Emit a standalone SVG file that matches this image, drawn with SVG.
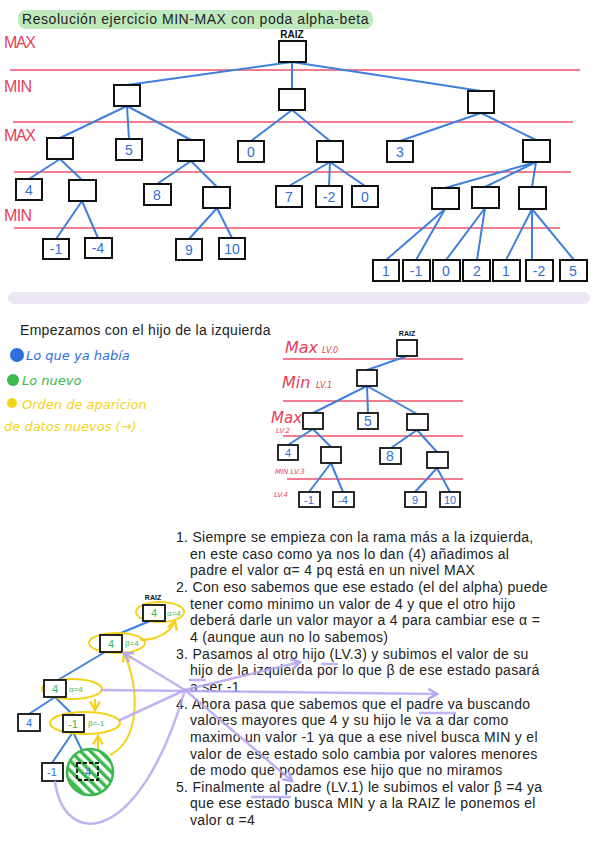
<svg xmlns="http://www.w3.org/2000/svg" width="600" height="848" viewBox="0 0 600 848">
<style>
.box{fill:#fff;stroke:#111;stroke-width:2}
.sbox{fill:#fff;stroke:#111;stroke-width:1.8}
.num{font-family:"Liberation Sans",sans-serif;font-size:14px;fill:#2f6fd6;text-anchor:middle}
.snum{font-family:"Liberation Sans",sans-serif;font-size:11px;fill:#2f6fd6;text-anchor:middle}
.gnum{font-family:"Liberation Sans",sans-serif;font-size:11px;fill:#3cb94e;text-anchor:middle}
.glab{font-family:"Liberation Sans",sans-serif;font-size:8px;fill:#3cb94e}
.edge{stroke:#3f80dc;stroke-width:2;fill:none}
.lvl{stroke:#ef5068;stroke-width:1.6}
.lab{font-family:"Liberation Sans",sans-serif;font-size:16px;fill:#e8405a}
.hlab{font-family:"DejaVu Sans",sans-serif;font-style:italic;fill:#e8405a}
.tiny{font-family:"Liberation Sans",sans-serif;font-size:7px;font-weight:bold;fill:#111;text-anchor:middle}
.body{font-family:"Liberation Sans",sans-serif;font-size:14px;fill:#222;letter-spacing:0.3px}
.hand{font-family:"DejaVu Sans",sans-serif;font-style:italic;font-size:13px}
.yel{stroke:#f3d21a;stroke-width:2;fill:none}
.pur{stroke:#b6a6f0;stroke-width:2.5;fill:none;stroke-linecap:round;stroke-opacity:0.85}
</style>
<defs>
<pattern id="hatch" patternUnits="userSpaceOnUse" width="7" height="7" patternTransform="rotate(-45)">
<rect width="7" height="7" fill="#fff"/><rect width="3.5" height="7" fill="#3cb94e"/>
</pattern>
<marker id="ya" viewBox="0 0 10 10" refX="8" refY="5" markerWidth="6" markerHeight="6" orient="auto"><path d="M1,1 L8,5 L1,9" fill="none" stroke="#f3d21a" stroke-width="2"/></marker>
<marker id="pa" viewBox="0 0 10 10" refX="8" refY="5" markerWidth="5" markerHeight="5" orient="auto"><path d="M1,1 L8,5 L1,9" fill="none" stroke="#b6a6f0" stroke-width="2"/></marker>
</defs>
<rect width="600" height="848" fill="#fff"/>

<!-- Title -->
<g id="title">
<rect x="18" y="10" width="355" height="19" rx="8" fill="#bfe8bc"/>
<text x="22" y="24" style="font-family:'Liberation Sans',sans-serif;font-size:14px;fill:#222;letter-spacing:0.55px">Resolución ejercicio MIN-MAX con poda alpha-beta</text>
</g>

<!-- Level labels and lines, top -->
<g id="levels-top">
<text class="lab" x="4" y="48" textLength="32">MAX</text>
<text class="lab" x="4" y="92" textLength="28">MIN</text>
<text class="lab" x="4" y="141" textLength="32">MAX</text>
<text class="lab" x="4" y="221" textLength="28">MIN</text>
<line class="lvl" x1="10" y1="70" x2="580" y2="70"/>
<line class="lvl" x1="13" y1="122" x2="573" y2="122"/>
<line class="lvl" x1="14" y1="172" x2="571" y2="172"/>
<line class="lvl" x1="14" y1="228" x2="560" y2="228"/>
</g>

<!-- Top tree connectors -->
<g id="connectors-top">
<path class="edge" d="M292,62 L127,85 M292,62 L292,89 M292,62 L481,91"/>
<path class="edge" d="M127,106 L60,138 M127,106 L129,139 M127,106 L191,140"/>
<path class="edge" d="M292,110 L251,141 M292,110 L330,141"/>
<path class="edge" d="M481,113 L400,141 M481,113 L536,140"/>
<path class="edge" d="M60,159 L29,179 M60,159 L82,180"/>
<path class="edge" d="M191,161 L157,184 M191,161 L217,187"/>
<path class="edge" d="M330,162 L289,186 M330,162 L329,186 M330,162 L365,186"/>
<path class="edge" d="M536,162 L445,188 M536,162 L485,187 M536,162 L532,187"/>
<path class="edge" d="M82,201 L56,239 M82,201 L98,238"/>
<path class="edge" d="M217,208 L189,239 M217,208 L232,238"/>
<path class="edge" d="M445,209 L386,260 M445,209 L416,260"/>
<path class="edge" d="M485,208 L446,260 M485,208 L477,260"/>
<path class="edge" d="M532,209 L506,260 M532,209 L532,260 M532,209 L574,260"/>
</g>

<!-- Top tree nodes -->
<g id="t-raiz"><text x="292" y="38" style="font-family:'Liberation Sans',sans-serif;font-size:10px;font-weight:bold;fill:#111;text-anchor:middle">RAIZ</text><rect class="box" x="279" y="41" width="27" height="21"/></g>
<g id="t-min1"><rect class="box" x="114" y="85" width="26" height="21"/></g>
<g id="t-min2"><rect class="box" x="279" y="89" width="26" height="21"/></g>
<g id="t-min3"><rect class="box" x="468" y="91" width="26" height="22"/></g>
<g id="t-max1"><rect class="box" x="47" y="138" width="26" height="21"/></g>
<g id="t-max2"><rect class="box" x="116" y="139" width="26" height="21"/><text class="num" x="129" y="155">5</text></g>
<g id="t-max3"><rect class="box" x="178" y="140" width="26" height="21"/></g>
<g id="t-max4"><rect class="box" x="238" y="141" width="26" height="21"/><text class="num" x="251" y="157">0</text></g>
<g id="t-max5"><rect class="box" x="317" y="141" width="26" height="21"/></g>
<g id="t-max6"><rect class="box" x="387" y="141" width="26" height="21"/><text class="num" x="400" y="157">3</text></g>
<g id="t-max7"><rect class="box" x="523" y="140" width="27" height="22"/></g>
<g id="t-n1"><rect class="box" x="16" y="179" width="26" height="21"/><text class="num" x="29" y="195">4</text></g>
<g id="t-n2"><rect class="box" x="69" y="180" width="27" height="21"/></g>
<g id="t-n3"><rect class="box" x="144" y="184" width="27" height="21"/><text class="num" x="157" y="200">8</text></g>
<g id="t-n4"><rect class="box" x="203" y="187" width="27" height="21"/></g>
<g id="t-n5"><rect class="box" x="276" y="186" width="26" height="21"/><text class="num" x="289" y="202">7</text></g>
<g id="t-n6"><rect class="box" x="316" y="186" width="26" height="21"/><text class="num" x="329" y="202">-2</text></g>
<g id="t-n7"><rect class="box" x="352" y="186" width="26" height="21"/><text class="num" x="365" y="202">0</text></g>
<g id="t-n8"><rect class="box" x="432" y="188" width="27" height="21"/></g>
<g id="t-n9"><rect class="box" x="472" y="187" width="27" height="21"/></g>
<g id="t-n10"><rect class="box" x="519" y="187" width="27" height="22"/></g>
<g id="t-l1"><rect class="box" x="43" y="239" width="26" height="20"/><text class="num" x="56" y="254">-1</text></g>
<g id="t-l2"><rect class="box" x="85" y="238" width="27" height="20"/><text class="num" x="98" y="253">-4</text></g>
<g id="t-l3"><rect class="box" x="176" y="239" width="26" height="21"/><text class="num" x="189" y="255">9</text></g>
<g id="t-l4"><rect class="box" x="219" y="238" width="26" height="21"/><text class="num" x="232" y="254">10</text></g>
<g id="t-l5"><rect class="box" x="373" y="260" width="26" height="21"/><text class="num" x="386" y="276">1</text></g>
<g id="t-l6"><rect class="box" x="403" y="260" width="27" height="21"/><text class="num" x="416" y="276">-1</text></g>
<g id="t-l7"><rect class="box" x="433" y="260" width="27" height="21"/><text class="num" x="446" y="276">0</text></g>
<g id="t-l8"><rect class="box" x="463" y="260" width="27" height="21"/><text class="num" x="477" y="276">2</text></g>
<g id="t-l9"><rect class="box" x="493" y="260" width="27" height="21"/><text class="num" x="506" y="276">1</text></g>
<g id="t-l10"><rect class="box" x="526" y="260" width="27" height="21"/><text class="num" x="539" y="276">-2</text></g>
<g id="t-l11"><rect class="box" x="560" y="260" width="27" height="21"/><text class="num" x="573" y="276">5</text></g>

<!-- Divider -->
<rect x="8" y="292" width="582" height="12" rx="6" fill="#ece6f6"/>

<!-- Middle text and legend -->
<text class="body" x="20" y="335">Empezamos con el hijo de la izquierda</text>
<g id="legend">
<circle cx="17" cy="355" r="7" fill="#2f6fe0"/>
<text class="hand" x="26" y="360" fill="#2f6fe0">Lo que ya había</text>
<circle cx="13" cy="380" r="6" fill="#3cb94e"/>
<text class="hand" x="22" y="385" fill="#3cb94e">Lo nuevo</text>
<circle cx="12" cy="403" r="5" fill="#f3d21a"/>
<text class="hand" x="22" y="409" fill="#f3d21a">Orden de aparicion</text>
<text class="hand" x="4" y="431" fill="#f3d21a">de datos nuevos (→)</text>
</g>

<!-- Middle tree levels -->
<g id="levels-mid">
<text class="hlab" x="285" y="353" style="font-size:16px">Max</text>
<text class="hlab" x="322" y="353" style="font-size:8px">LV.0</text>
<text class="hlab" x="282" y="388" style="font-size:16px">Min</text>
<text class="hlab" x="316" y="388" style="font-size:8px">LV.1</text>
<text class="hlab" x="271" y="423" style="font-size:15px">Max</text>
<text class="hlab" x="276" y="433" style="font-size:7px">LV.2</text>
<text class="hlab" x="275" y="474" style="font-size:7px">MIN LV.3</text>
<text class="hlab" x="274" y="497" style="font-size:7px">LV.4</text>
<line class="lvl" x1="283" y1="359" x2="463" y2="359"/>
<line class="lvl" x1="283" y1="401" x2="463" y2="401"/>
<line class="lvl" x1="283" y1="436" x2="463" y2="436"/>
<line class="lvl" x1="287" y1="479" x2="463" y2="479"/>
</g>

<g id="connectors-mid">
<path class="edge" d="M407,356 L367,370"/>
<path class="edge" d="M367,386 L313,413 M367,386 L368,413 M367,386 L417,414"/>
<path class="edge" d="M313,429 L288,445 M313,429 L331,447"/>
<path class="edge" d="M417,430 L391,448 M417,430 L437,452"/>
<path class="edge" d="M331,463 L309,492 M331,463 L343,492"/>
<path class="edge" d="M437,468 L415,492 M437,468 L450,492"/>
</g>

<g id="m-raiz"><text class="tiny" x="407" y="336">RAIZ</text><rect class="sbox" x="397" y="340" width="20" height="16"/></g>
<g id="m-min"><rect class="sbox" x="357" y="370" width="20" height="16"/></g>
<g id="m-max1"><rect class="sbox" x="303" y="413" width="20" height="16"/></g>
<g id="m-max2"><rect class="sbox" x="358" y="413" width="20" height="16"/><text class="num" x="368" y="426">5</text></g>
<g id="m-max3"><rect class="sbox" x="407" y="414" width="21" height="16"/></g>
<g id="m-n1"><rect class="sbox" x="278" y="445" width="20" height="15"/><text class="snum" x="288" y="457">4</text></g>
<g id="m-n2"><rect class="sbox" x="321" y="447" width="20" height="16"/></g>
<g id="m-n3"><rect class="sbox" x="380" y="448" width="21" height="16"/><text class="num" x="390" y="461">8</text></g>
<g id="m-n4"><rect class="sbox" x="427" y="452" width="21" height="16"/></g>
<g id="m-l1"><rect class="sbox" x="299" y="492" width="21" height="15"/><text class="snum" x="309" y="504">-1</text></g>
<g id="m-l2"><rect class="sbox" x="333" y="492" width="21" height="15"/><text class="snum" x="343" y="504">-4</text></g>
<g id="m-l3"><rect class="sbox" x="405" y="492" width="21" height="15"/><text class="snum" x="415" y="504">9</text></g>
<g id="m-l4"><rect class="sbox" x="440" y="492" width="20" height="15"/><text class="snum" x="450" y="504">10</text></g>

<!-- Bottom text -->
<text class="body">
<tspan x="176" y="542">1. Siempre se empieza con la rama más a la izquierda,</tspan>
<tspan x="190" y="558.7">en este caso como ya nos lo dan (4) añadimos al</tspan>
<tspan x="190" y="575.3">padre el valor α= 4 pq está en un nivel MAX</tspan>
<tspan x="176" y="592">2.  Con eso sabemos que ese estado (el del alpha) puede</tspan>
<tspan x="190" y="608.6">tener como minimo un valor de 4 y que el otro hijo</tspan>
<tspan x="190" y="625.3">deberá darle un valor mayor a 4 para cambiar ese α =</tspan>
<tspan x="190" y="641.9">4 (aunque aun no lo sabemos)</tspan>
<tspan x="176" y="658.6">3.  Pasamos al otro hijo (LV.3) y subimos el valor de su</tspan>
<tspan x="190" y="675.2">hijo de la izquierda por lo que β de ese estado pasará</tspan>
<tspan x="190" y="691.9">a ser -1</tspan>
<tspan x="176" y="708.5">4.  Ahora pasa que sabemos que el padre va buscando</tspan>
<tspan x="190" y="725.2">valores mayores que 4 y su hijo le va a dar como</tspan>
<tspan x="190" y="741.8">maximo un valor -1 ya que a ese nivel busca MIN y el</tspan>
<tspan x="190" y="758.5">valor de ese estado solo cambia por valores menores</tspan>
<tspan x="190" y="775.1">de modo que podamos ese hijo que no miramos</tspan>
<tspan x="176" y="791.8">5. Finalmente al padre (LV.1) le subimos el valor β =4 ya</tspan>
<tspan x="190" y="808.4">que ese estado busca MIN y a la RAIZ le ponemos el</tspan>
<tspan x="190" y="825.1">valor α =4</tspan>
</text>

<!-- Bottom-left tree connectors -->
<g id="connectors-bl">
<path class="edge" d="M150,621 L116,635 M105,652 L58,680 M55,697 L29,714 M55,697 L73,715 M73,732 L52,763 M73,732 L88,763"/>
</g>

<!-- Pruned circle -->
<g id="b-pruned">
<circle cx="90" cy="772" r="23" fill="url(#hatch)" stroke="#3cb94e" stroke-width="2.5"/>
<rect x="77" y="763" width="21" height="17" fill="none" stroke="#111" stroke-width="1.8" stroke-dasharray="4,2"/>
<text class="snum" x="88" y="776">4</text>
</g>

<g id="b-raiz"><text class="tiny" x="153" y="600">RAIZ</text>
<ellipse class="yel" cx="160" cy="612" rx="24" ry="10"/>
<rect class="sbox" x="143" y="605" width="22" height="16"/><text class="gnum" x="154" y="617">4</text><text class="glab" x="167" y="616">α=4</text></g>
<g id="b-beta4"><ellipse class="yel" cx="117" cy="643" rx="28" ry="10"/>
<rect class="sbox" x="100" y="635" width="22" height="17"/><text class="gnum" x="111" y="648">4</text><text class="glab" x="125" y="646">β=4</text></g>
<g id="b-alpha4"><ellipse class="yel" cx="72" cy="689" rx="30" ry="10"/>
<rect class="sbox" x="44" y="680" width="22" height="17"/><text class="gnum" x="55" y="693">4</text><text class="glab" x="69" y="692">α=4</text></g>
<g id="b-four"><rect class="sbox" x="18" y="714" width="22" height="17"/><text class="snum" x="29" y="727">4</text></g>
<g id="b-m1"><ellipse class="yel" cx="85" cy="723" rx="35" ry="11"/>
<rect class="sbox" x="63" y="715" width="21" height="17"/><text class="gnum" x="73" y="728">-1</text><text class="glab" x="88" y="726">β=-1</text></g>
<g id="b-leaf"><rect class="sbox" x="42" y="763" width="21" height="18"/><text class="snum" x="52" y="776">-1</text></g>

<!-- Yellow arrows -->
<g id="yellow-arrows">
<path class="yel" d="M95,699 L95,710" marker-end="url(#ya)"/>
<path class="yel" d="M98,749 L98,736" marker-end="url(#ya)"/>
<path class="yel" d="M110,755 C140,740 140,690 124,653" marker-end="url(#ya)"/>
<path class="yel" d="M140,640 C160,640 172,630 175,621" marker-end="url(#ya)"/>
</g>

<!-- Purple annotation lines -->
<g id="purple">
<path class="pur" d="M102,690 L437,694" marker-end="url(#pa)"/>
<path class="pur" d="M185,690 L300,662" marker-end="url(#pa)"/>
<path class="pur" d="M185,690 L124,653" marker-end="url(#pa)"/>
<path class="pur" d="M120,720 L185,690"/>
<path class="pur" d="M185,690 L292,781" marker-end="url(#pa)"/>
<path class="pur" d="M55,782 C65,850 140,845 185,690"/>
<path class="pur" d="M322,664 L337,664"/>
<path class="pur" d="M190,680 L205,680"/>
<path class="pur" d="M420,713 L455,713"/>
<path class="pur" d="M252,797 L290,797"/>
</g>
</svg>
